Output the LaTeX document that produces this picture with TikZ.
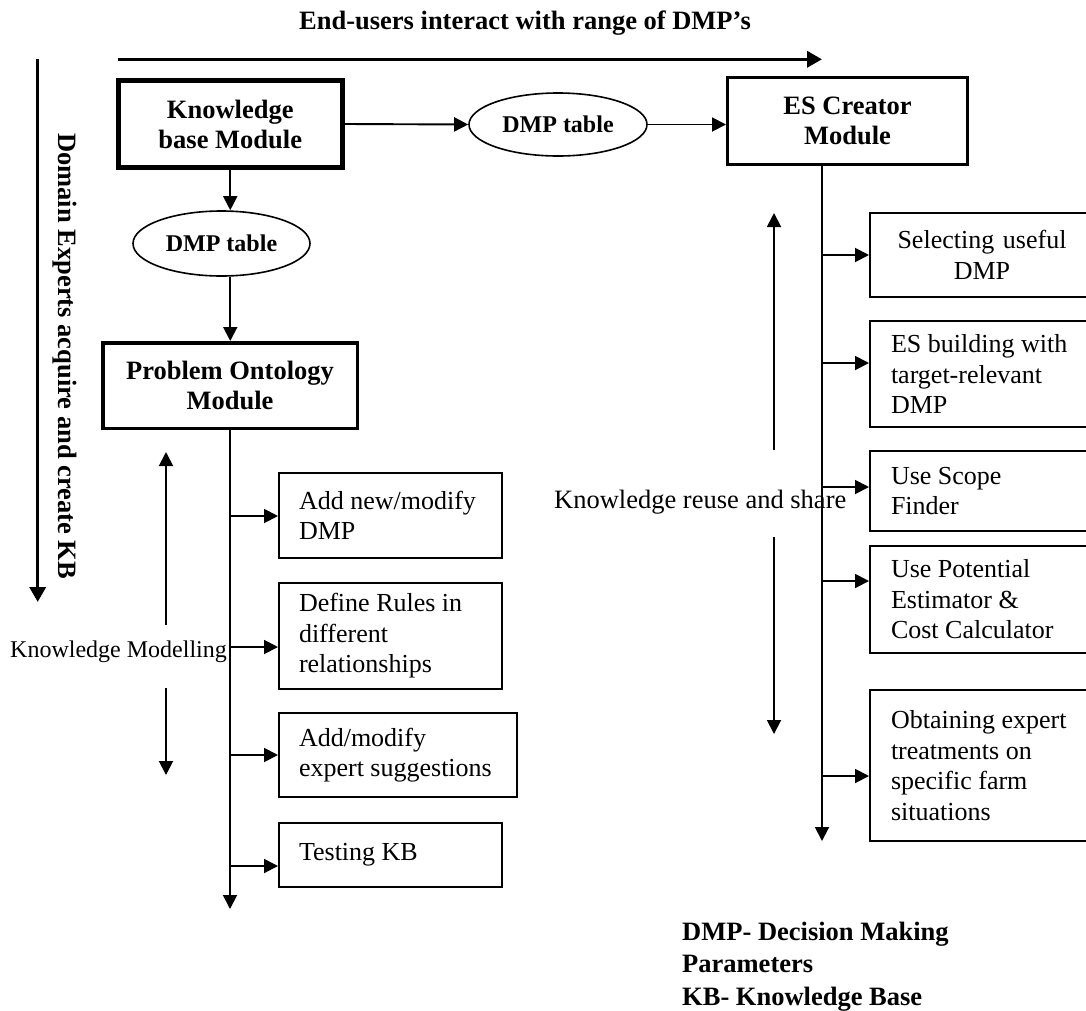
\documentclass[tikz,border=0pt]{standalone}
\usepackage{fontspec}
\setmainfont{Liberation Serif}
\usetikzlibrary{arrows.meta,shapes.geometric}
\begin{document}
\begin{tikzpicture}[x=1pt,y=-1pt,
  tip/.style={-{Triangle[length=14pt,width=14pt]}},
  bigtip/.style={-{Triangle[length=15pt,width=16pt]}},
  conn/.style={line width=1.9pt, tip},
  bigarrow/.style={line width=3.5pt, bigtip},
  boldtxt/.style={font=\fontsize{26.5}{30}\selectfont\bfseries},
  module/.style={draw, boldtxt, align=center, inner sep=0pt},
  tablenode/.style={draw, ellipse, line width=1.6pt, font=\fontsize{24}{28}\selectfont\bfseries, inner sep=0pt},
  task/.style={draw, line width=2pt, font=\fontsize{26}{30.5}\selectfont, align=flush left, inner sep=0pt},
  plain/.style={inner sep=0pt, anchor=base west},
]
\useasboundingbox (0,0) rectangle (1086,1010);
\clip (0,0) rectangle (1086,1010);

% title and big arrows
\node[boldtxt, anchor=base, inner sep=0pt] (title) at (525,29) {End-users interact with range of DMP’s};
\coordinate (hs) at (118,59.3);
\coordinate (he) at (822,59.3);
\draw[bigarrow] (hs) -- (he);
\coordinate (vs) at (37.7,59.3);
\coordinate (ve) at (37.7,602);
\draw[bigarrow] (vs) -- (ve);
\node[boldtxt, rotate=-90, plain] (dom) at (58,133) {Domain Experts acquire and create KB};

% modules
\node[module, line width=5pt, minimum width=224.5, minimum height=87] (kb) at (230.25,124) {Knowledge\\base Module};
\node[tablenode, minimum width=178, minimum height=63] (t1) at (558,124.5) {DMP table};
\node[module, line width=3pt, minimum width=240, minimum height=87] (es) at (847.5,121) {ES Creator\\Module};
\node[tablenode, minimum width=177, minimum height=65] (t2) at (221.5,243.5) {DMP table};
\node[module, line width=3.5pt, minimum width=254.5, minimum height=85.5] (po) at (230,385.5) {Problem Ontology\\Module};

\draw[conn] (kb.east) -- (t1.west);
\draw[conn] (t1.east) -- (t1.east -| es.west);
\draw[conn] (kb.south) -- (kb.south |- t2.north);
\draw[conn] (kb.south |- t2.south) -- (kb.south |- po.north);

% left branch
\coordinate (lt) at (230,909);
\draw[conn] (po.south) -- (lt);
\node[task, minimum width=223, minimum height=85, text width=183] (a1) at (390.5,515.5) {Add new/modify\\DMP};
\node[task, minimum width=223, minimum height=106, text width=183] (a2) at (390.5,636) {Define Rules in\\different\\relationships};
\node[task, minimum width=238, minimum height=84, text width=198] (a3) at (398,755) {Add/modify\\expert suggestions};
\node[task, minimum width=223, minimum height=64, text width=183] (a4) at (390.5,855) {Testing KB};
\coordinate (b1) at (230,516);
\coordinate (b2) at (230,647);
\coordinate (b3) at (230,755);
\coordinate (b4) at (230,866);
\draw[conn] (b1) -- (b1 -| a1.west);
\draw[conn] (b2) -- (b2 -| a2.west);
\draw[conn] (b3) -- (b3 -| a3.west);
\draw[conn] (b4) -- (b4 -| a4.west);

\node[font=\fontsize{24}{28}\selectfont, plain] (km) at (10,657) {Knowledge Modelling};
\coordinate (kmu1) at (166,625);
\coordinate (kmu2) at (166,452);
\coordinate (kmd1) at (166,688);
\coordinate (kmd2) at (166,775);
\draw[conn] (kmu1) -- (kmu2);
\draw[conn] (kmd1) -- (kmd2);

% right branch
\node[font=\fontsize{26.5}{30}\selectfont, plain] (kr) at (554,508) {Knowledge reuse and share};
\coordinate (rt) at (822,841);
\draw[conn] (es.south -| rt) -- (rt);
\node[task, align=center, minimum width=224, minimum height=84, text width=182] (r1) at (982,255) {Selecting useful\\DMP};
\node[task, minimum width=224, minimum height=106, text width=182] (r2) at (982,374) {ES building with\\target-relevant\\DMP};
\node[task, minimum width=224, minimum height=80, text width=182] (r3) at (982,491) {Use Scope\\Finder};
\node[task, minimum width=224, minimum height=107, text width=182] (r4) at (982,599.5) {Use Potential\\Estimator \&\\Cost Calculator};
\node[task, minimum width=224, minimum height=151, text width=182] (r5) at (982,765.5) {Obtaining expert\\treatments on\\specific farm\\situations};
\coordinate (c1) at (822,255);
\coordinate (c2) at (822,363);
\coordinate (c3) at (822,487);
\coordinate (c4) at (822,581);
\coordinate (c5) at (822,776);
\draw[conn] (c1) -- (c1 -| r1.west);
\draw[conn] (c2) -- (c2 -| r2.west);
\draw[conn] (c3) -- (c3 -| r3.west);
\draw[conn] (c4) -- (c4 -| r4.west);
\draw[conn] (c5) -- (c5 -| r5.west);

\coordinate (kru1) at (774,450);
\coordinate (kru2) at (774,213);
\coordinate (krd1) at (774,537);
\coordinate (krd2) at (774,734);
\draw[conn] (kru1) -- (kru2);
\draw[conn] (krd1) -- (krd2);

% legend
\node[boldtxt, plain] (leg1) at (682,940) {DMP- Decision Making};
\node[boldtxt, plain] (leg2) at (682,972) {Parameters};
\node[boldtxt, plain] (leg3) at (682,1005) {KB- Knowledge Base};
\end{tikzpicture}
\end{document}
